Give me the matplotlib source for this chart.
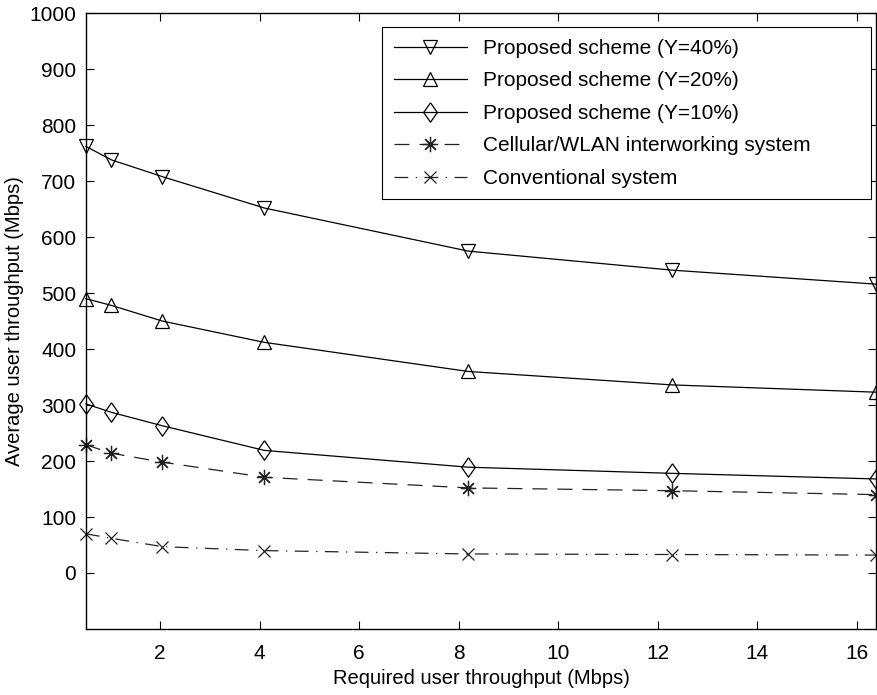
import matplotlib
matplotlib.use('Agg')
from matplotlib import pyplot as plt

# required user throughput (Mbps)
req_tput = [0.512, 1.024, 2.048, 4.096, 8.192, 12.288, 16.384]

# average user throughput (Mbps)
prop_40 = [762, 738, 708, 652, 575, 541, 516]
prop_20 = [490, 478, 450, 412, 360, 336, 323]
prop_10 = [302, 287, 263, 219, 189, 178, 168]
cellular_wlan = [229, 214, 198, 171, 152, 147, 140]
conventional = [70, 62, 47, 40, 34, 33, 32]

plt.rcParams['font.family'] = ['Liberation Sans', 'DejaVu Sans']
plt.rcParams['font.size'] = 15

fig = plt.figure(figsize=(8.77, 6.95), dpi=100)
ax = fig.add_axes([0.098, 0.095, 0.901, 0.886])

# tall diamond like the matlab one
diamond = [(0, 1), (0.7, 0), (0, -1), (-0.7, 0), (0, 1)]

ax.plot(req_tput, prop_40, '-', marker='v', label='Proposed scheme (Y=40%)', clip_on=False,
        color='k', lw=0.9, markersize=10, fillstyle='none', markeredgewidth=0.9)
ax.plot(req_tput, prop_20, '-', marker='^', label='Proposed scheme (Y=20%)', clip_on=False,
        color='k', lw=0.9, markersize=10, fillstyle='none', markeredgewidth=0.9)
ax.plot(req_tput, prop_10, '-', marker=diamond, label='Proposed scheme (Y=10%)', clip_on=False,
        color='k', lw=0.9, markersize=14, fillstyle='none', markeredgewidth=0.9)
ax.plot(req_tput, cellular_wlan, marker=(8, 2, 0), label='Cellular/WLAN interworking system',
        clip_on=False, color='#222222', lw=0.9, markersize=11, markeredgewidth=0.9,
        linestyle=(0, (12, 8)))
ax.plot(req_tput, conventional, marker='x', label='Conventional system', clip_on=False,
        color='#222222', lw=0.9, markersize=9, markeredgewidth=0.9,
        linestyle=(0, (11, 6, 1, 6)))

ax.set_xlim(0.512, 16.384)
ax.set_ylim(-100, 1000)
ax.set_xticks([2, 4, 6, 8, 10, 12, 14, 16])
ax.set_yticks(range(0, 1001, 100))
ax.tick_params(direction='in', top=True, right=True, length=6, width=0.8)
ax.tick_params(axis='x', pad=11)
ax.tick_params(axis='y', pad=7)
for sp in ax.spines.values():
    sp.set_linewidth(1.0)

ax.set_xlabel('Required user throughput (Mbps)', fontsize=14.5, labelpad=4)
ax.set_ylabel('Average user throughput (Mbps)', fontsize=14.5, labelpad=4)

# wide matlab-style legend box, text left aligned
leg = ax.legend(loc='upper left', bbox_to_anchor=(0.375, 0.706, 0.619, 0.271), mode='expand',
                borderaxespad=0, handlelength=3.5, fancybox=False, framealpha=1,
                edgecolor='k', borderpad=0.55, labelspacing=0.65, fontsize=15)
leg.get_frame().set_linewidth(0.8)

plt.savefig('out.png', dpi=100)
